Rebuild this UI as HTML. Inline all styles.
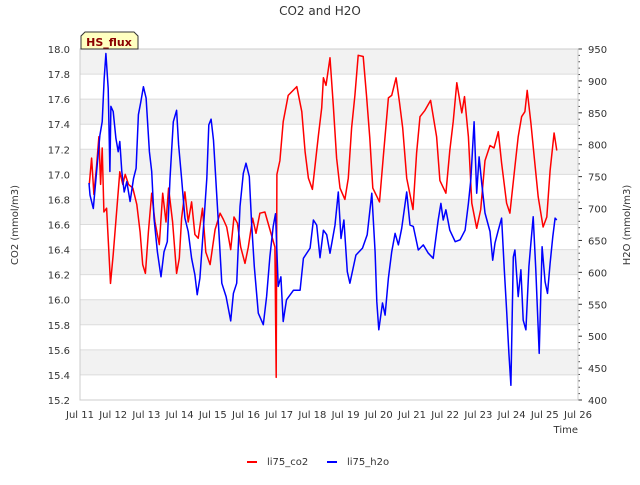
<!DOCTYPE html>
<html><head><meta charset="utf-8"><style>
body{margin:0;background:#fff;font-family:"Liberation Sans","DejaVu Sans",sans-serif}
svg text{font-family:"DejaVu Sans","Liberation Sans",sans-serif}
</style></head><body>
<svg id="c" width="640" height="480" xmlns="http://www.w3.org/2000/svg"></svg>
<script>
const co2Days=[11.28,11.35,11.42,11.5,11.57,11.62,11.67,11.72,11.8,11.92,12.0,12.12,12.2,12.29,12.36,12.46,12.59,12.71,12.81,12.89,12.97,13.06,13.16,13.26,13.39,13.49,13.59,13.67,13.79,13.91,13.99,14.06,14.16,14.26,14.36,14.46,14.56,14.69,14.79,14.92,15.07,15.22,15.32,15.42,15.54,15.64,15.74,15.84,15.97,16.07,16.2,16.3,16.42,16.57,16.72,16.87,16.91,16.93,17.02,17.12,17.27,17.53,17.68,17.78,17.88,18.0,18.18,18.28,18.33,18.41,18.53,18.63,18.73,18.83,18.98,19.08,19.18,19.28,19.38,19.53,19.63,19.73,19.82,20.02,20.14,20.29,20.39,20.52,20.62,20.72,20.84,21.03,21.14,21.24,21.39,21.56,21.74,21.84,22.02,22.14,22.24,22.35,22.5,22.58,22.7,22.8,22.95,23.07,23.2,23.35,23.47,23.6,23.7,23.85,23.95,24.1,24.2,24.3,24.4,24.47,24.58,24.68,24.8,24.95,25.06,25.16,25.28,25.36];
const co2Vals=[16.92,17.13,16.84,17.07,17.3,16.92,17.21,16.7,16.73,16.13,16.36,16.76,17.02,16.92,17.0,16.92,16.89,16.76,16.54,16.28,16.21,16.54,16.85,16.62,16.44,16.85,16.62,16.89,16.62,16.21,16.33,16.65,16.86,16.62,16.78,16.52,16.49,16.73,16.38,16.28,16.56,16.69,16.64,16.58,16.4,16.66,16.61,16.42,16.29,16.42,16.65,16.53,16.69,16.7,16.56,16.42,15.38,17.0,17.11,17.42,17.63,17.7,17.5,17.18,16.97,16.88,17.31,17.53,17.77,17.71,17.93,17.55,17.13,16.89,16.8,16.97,17.37,17.63,17.95,17.94,17.63,17.29,16.89,16.78,17.15,17.61,17.63,17.77,17.58,17.37,16.97,16.72,17.17,17.46,17.51,17.59,17.3,16.95,16.85,17.19,17.42,17.73,17.49,17.62,17.3,16.77,16.57,16.72,17.11,17.23,17.21,17.34,17.09,16.77,16.69,17.06,17.3,17.46,17.5,17.67,17.41,17.14,16.82,16.58,16.66,17.03,17.33,17.19];
const h2oDays=[11.27,11.3,11.4,11.5,11.6,11.67,11.73,11.78,11.85,11.9,11.93,12.0,12.08,12.15,12.2,12.26,12.33,12.41,12.51,12.61,12.69,12.76,12.83,12.91,12.99,13.09,13.16,13.23,13.33,13.44,13.53,13.63,13.71,13.81,13.91,13.97,14.06,14.16,14.26,14.36,14.46,14.53,14.61,14.71,14.82,14.88,14.95,15.02,15.17,15.27,15.4,15.54,15.62,15.72,15.82,15.92,16.0,16.1,16.17,16.25,16.37,16.52,16.62,16.72,16.82,16.89,16.97,17.05,17.12,17.22,17.43,17.63,17.73,17.93,18.03,18.13,18.23,18.33,18.43,18.53,18.68,18.78,18.86,18.95,19.05,19.13,19.31,19.51,19.65,19.79,19.89,19.94,20.0,20.11,20.19,20.29,20.39,20.49,20.59,20.69,20.84,20.94,21.04,21.19,21.34,21.49,21.64,21.79,21.87,21.94,22.02,22.14,22.3,22.45,22.6,22.7,22.77,22.87,22.95,23.02,23.1,23.2,23.35,23.43,23.5,23.6,23.7,23.78,23.85,23.92,23.98,24.05,24.1,24.2,24.28,24.35,24.43,24.52,24.58,24.65,24.73,24.83,24.92,25.01,25.08,25.16,25.24,25.31,25.36];
const h2oVals=[740,721,700,758,815,836,904,943,888,758,860,852,810,789,805,758,726,742,711,747,763,847,867,891,873,789,758,685,632,593,632,648,747,836,854,800,747,685,664,622,596,565,591,664,747,831,840,807,677,583,562,524,567,583,703,755,771,750,677,609,536,518,562,625,672,692,578,593,523,557,572,572,622,638,682,674,623,666,659,630,674,726,653,682,601,583,627,638,659,724,632,554,510,552,533,591,632,661,643,669,726,674,672,635,643,630,622,682,708,682,698,666,648,651,666,708,745,836,724,781,740,693,664,619,646,666,685,604,541,473,423,624,635,562,604,525,510,609,646,687,604,473,640,585,567,614,656,685,682];
const leftTicks=[15.2,15.4,15.6,15.8,16.0,16.2,16.4,16.6,16.8,17.0,17.2,17.4,17.6,17.8,18.0];
const rightTicks=[400,450,500,550,600,650,700,750,800,850,900,950];
const xTicks=["Jul 11","Jul 12","Jul 13","Jul 14","Jul 15","Jul 16","Jul 17","Jul 18","Jul 19","Jul 20","Jul 21","Jul 22","Jul 23","Jul 24","Jul 25","Jul 26"];

const L=80,R=578,T=49,B=400,NS="http://www.w3.org/2000/svg";
const xs=d=>L+(d-11)*(R-L)/15;
const yl=v=>B-(v-15.2)*(B-T)/2.8;
const yr=v=>B-(v-400)*(B-T)/550;
const svg=document.getElementById('c');
function mk(tag,attrs,txt){const e=document.createElementNS(NS,tag);for(const k in attrs)e.setAttribute(k,attrs[k]);if(txt!==undefined)e.textContent=txt;svg.appendChild(e);return e;}

for(let i=0;i<leftTicks.length-1;i++){
  if(i%2===1){const r=mk('rect',{x:L,y:yl(leftTicks[i+1]),width:R-L,height:yl(leftTicks[i])-yl(leftTicks[i+1]),fill:'#f2f2f2'});
  
  }
}
leftTicks.forEach(v=>{const g=mk('line',{x1:L,x2:R,y1:yl(v),y2:yl(v),stroke:'#dcdcdc','stroke-width':1});


const t=mk('text',{x:L-10,y:yl(v)+4,'text-anchor':'end','font-size':10,fill:'#333'},v.toFixed(1));

});
rightTicks.forEach(v=>{const t=mk('text',{x:R+10,y:yr(v)+4,'font-size':10,fill:'#333'},String(v));


mk('line',{x1:R,x2:R+4,y1:yr(v),y2:yr(v),stroke:'#333'});});
for(let v=410;v<950;v+=10){if(v%50)mk('line',{x1:R,x2:R+2,y1:yr(v),y2:yr(v),stroke:'#555'});}
xTicks.forEach((s,i)=>{const t=mk('text',{x:xs(11+i),y:B+18,'text-anchor':'middle','font-size':10,fill:'#333'},s);

});
const fr=mk('rect',{x:L,y:T,width:R-L,height:B-T,fill:'none',stroke:'#ccc'});



function line(days,vals,sc,col,name){const p=days.map((d,i)=>(i?'L':'M')+xs(d).toFixed(1)+','+sc(vals[i]).toFixed(1)).join('');
const e=mk('path',{d:p,fill:'none',stroke:col,'stroke-width':1.5,'stroke-linejoin':'round'});

}
line(co2Days,co2Vals,yl,'#ff0000','co2-line');
line(h2oDays,h2oVals,yr,'#0000ff','h2o-line');

const title=mk('text',{x:320,y:15,'text-anchor':'middle','font-size':12,fill:'#333'},'CO2 and H2O');


const yl1=mk('text',{x:18,y:225,'text-anchor':'middle','font-size':10,fill:'#333',transform:'rotate(-90 18 225)'},'CO2 (mmol/m3)');


const yr1=mk('text',{x:630,y:225,'text-anchor':'middle','font-size':10,fill:'#333',transform:'rotate(-90 630 225)'},'H2O (mmol/m3)');


const xt=mk('text',{x:578,y:433,'text-anchor':'end','font-size':10,fill:'#333'},'Time');


const hb=mk('path',{d:'M81,49 L81,36 L85,32 L134,32 L138,36 L138,49 Z',fill:'#ffffc0',stroke:'#333'});


const ht=mk('text',{x:109,y:46,'text-anchor':'middle','font-size':11,'font-weight':'bold',fill:'#8b0000'},'HS_flux');


[['#ff0000','li75_co2',247],['#0000ff','li75_h2o',327]].forEach(([c,s,x])=>{
const l=mk('line',{x1:x,x2:x+10,y1:462,y2:462,stroke:c,'stroke-width':2});


const t=mk('text',{x:x+20,y:465,'font-size':10,fill:'#333'},s);

});
</script>
</body></html>
